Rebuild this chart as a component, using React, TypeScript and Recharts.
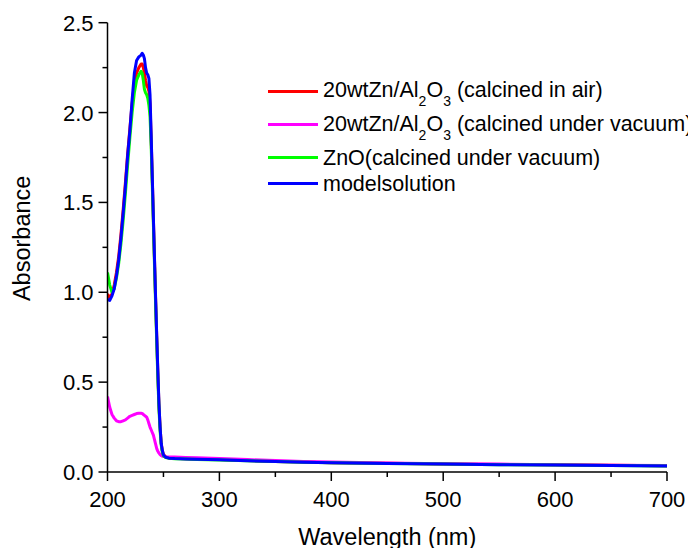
import { LineChart, Line, XAxis, YAxis, Legend } from 'recharts';

const FONT = '"Liberation Sans", Arial, sans-serif';

// wavelength grid (nm), shared by all four spectra
const wavelengths = [
  200, 202, 204, 206, 208, 210, 212, 214, 216, 218, 220, 222, 224, 226, 228, 230, 231, 232, 233, 234,
  235, 236, 237, 238, 239, 240, 241, 242, 243, 244, 245, 246, 247, 248, 249, 250, 252, 255, 260, 270,
  280, 300, 325, 350, 375, 400, 450, 500, 550, 600, 650, 700,
];

const airValues = [
  0.99, 0.97, 0.99, 1.04, 1.11, 1.2, 1.32, 1.46, 1.61, 1.77, 1.91, 2.05, 2.16, 2.22, 2.25, 2.27, 2.27, 2.25, 2.22, 2.18,
  2.15, 2.14, 2.12, 2.05, 1.86, 1.64, 1.41, 1.18, 0.96, 0.75, 0.55, 0.37, 0.25, 0.16, 0.12, 0.097, 0.084, 0.078, 0.076, 0.074,
  0.072, 0.069, 0.064, 0.059, 0.055, 0.052, 0.048, 0.045, 0.042, 0.04, 0.037, 0.035,
];

const vacuumValues = [
  0.42, 0.36, 0.32, 0.3, 0.285, 0.28, 0.28, 0.285, 0.29, 0.3, 0.31, 0.315, 0.32, 0.325, 0.327, 0.327, 0.326, 0.32, 0.315, 0.31,
  0.305, 0.29, 0.27, 0.25, 0.235, 0.22, 0.205, 0.18, 0.155, 0.13, 0.115, 0.105, 0.097, 0.092, 0.088, 0.086, 0.085, 0.084, 0.083, 0.081,
  0.079, 0.075, 0.069, 0.064, 0.059, 0.055, 0.05, 0.046, 0.044, 0.041, 0.038, 0.036,
];

const znoValues = [
  1.11, 1.04, 1.0, 1.02, 1.08, 1.16, 1.27, 1.4, 1.55, 1.71, 1.86, 2.0, 2.11, 2.18, 2.21, 2.23, 2.22, 2.18, 2.13, 2.11,
  2.1, 2.08, 2.04, 1.98, 1.82, 1.6, 1.38, 1.15, 0.93, 0.72, 0.52, 0.35, 0.23, 0.15, 0.11, 0.09, 0.08, 0.076, 0.074, 0.072,
  0.07, 0.067, 0.062, 0.058, 0.054, 0.051, 0.047, 0.044, 0.041, 0.039, 0.036, 0.034,
];

const modelValues = [
  0.96, 0.955, 0.98, 1.02, 1.09, 1.18, 1.3, 1.44, 1.59, 1.76, 1.9, 2.07, 2.22, 2.29, 2.31, 2.32, 2.33, 2.32, 2.3, 2.25,
  2.22, 2.21, 2.19, 2.1, 1.88, 1.65, 1.42, 1.19, 0.97, 0.76, 0.56, 0.38, 0.25, 0.16, 0.12, 0.095, 0.082, 0.077, 0.075, 0.073,
  0.071, 0.068, 0.063, 0.058, 0.054, 0.051, 0.047, 0.044, 0.041, 0.039, 0.036, 0.034,
];

const seriesColors = ['#ff0000', '#ff00ff', '#00ff00', '#0000ff'];
const seriesValues = [airValues, vacuumValues, znoValues, modelValues];

const xTicks = [200, 250, 300, 350, 400, 450, 500, 550, 600, 650, 700];
const yTicks = [0, 0.25, 0.5, 0.75, 1, 1.25, 1.5, 1.75, 2, 2.25, 2.5];

const seriesData = seriesValues.map((vals) => wavelengths.map((wl, i) => ({ wl, a: vals[i] })));

function Sub({ children }: { children: any }) {
  return <span style={{ fontSize: 14, position: 'relative', top: 9 }}>{children}</span>;
}

const legendLabels = [
  <>20wtZn/Al<Sub>2</Sub>O<Sub>3</Sub> (calcined in air)</>,
  <>20wtZn/Al<Sub>2</Sub>O<Sub>3</Sub> (calcined under vacuum)</>,
  <>ZnO(calcined under vacuum)</>,
  <>modelsolution</>,
];
const rowGaps = [7.5, 7, 0, 0];

function renderLegend() {
  return (
    <div style={{ fontFamily: FONT, fontSize: 21.5, color: '#000', whiteSpace: 'nowrap' }}>
      {legendLabels.map((lab, i) => (
        <div key={i} style={{ display: 'flex', alignItems: 'center', height: 26, lineHeight: '26px', marginBottom: rowGaps[i] }}>
          <div style={{ width: 50, height: 3, background: seriesColors[i], marginRight: 5 }} />
          <span>{lab}</span>
        </div>
      ))}
    </div>
  );
}

function XTick({ x, y, payload }: any) {
  const major = payload.value % 100 === 0;
  return (
    <g>
      <line x1={x} x2={x} y1={y} y2={y + (major ? 9 : 5)} stroke="#000" strokeWidth={1.5} />
      {major && (
        <text x={x} y={y + 35} textAnchor="middle" fontSize={22} fontFamily={FONT} fill="#000">
          {payload.value}
        </text>
      )}
    </g>
  );
}

function YTick({ x, y, payload }: any) {
  const v = payload.value;
  const major = Math.abs(v * 2 - Math.round(v * 2)) < 1e-6;
  return (
    <g>
      <line x1={x - (major ? 9 : 5)} x2={x} y1={y} y2={y} stroke="#000" strokeWidth={1.5} />
      {major && (
        <text x={x - 14} y={y + 8} textAnchor="end" fontSize={22} fontFamily={FONT} fill="#000">
          {v.toFixed(1)}
        </text>
      )}
    </g>
  );
}

const XTitle = (props: any) => {
  const vb = props.viewBox;
  return (
    <text x={vb.x + vb.width / 2} y={vb.y + 73} textAnchor="middle" fontSize={23.5} fontFamily={FONT} fill="#000">
      Wavelength (nm)
    </text>
  );
};

const YTitle = (props: any) => {
  const vb = props.viewBox;
  const cy = vb.y + vb.height / 2 - 9;
  return (
    <text x={30} y={cy} transform={`rotate(-90, 30, ${cy})`} textAnchor="middle" fontSize={23.5} fontFamily={FONT} fill="#000">
      Absorbance
    </text>
  );
};

export default function App() {
  return (
    <div style={{ position: 'absolute', left: 0, top: 0, width: 688, height: 548, overflow: 'hidden', background: '#fff' }}>
      <LineChart width={688} height={548} margin={{ top: 22.7, right: 21, bottom: 0, left: 0 }}>
        <XAxis
          type="number"
          dataKey="wl"
          domain={[200, 700]}
          ticks={xTicks}
          interval={0}
          height={76}
          tickSize={0}
          tickMargin={0}
          tickLine={false}
          tick={<XTick />}
          axisLine={{ stroke: '#000', strokeWidth: 1.5 }}
          allowDataOverflow
          label={{ content: XTitle }}
        />
        <YAxis
          type="number"
          domain={[0, 2.5]}
          ticks={yTicks}
          interval={0}
          width={107.5}
          tickSize={0}
          tickMargin={0}
          tickLine={false}
          tick={<YTick />}
          axisLine={{ stroke: '#000', strokeWidth: 1.5 }}
          allowDataOverflow
          label={{ content: YTitle }}
        />
        <Legend
          layout="vertical"
          align="center"
          verticalAlign="middle"
          content={renderLegend}
          wrapperStyle={{ left: 268, top: 78, width: 440, height: 'auto' }}
        />
        {seriesData.map((d, i) => (
          <Line
            key={i}
            data={d}
            dataKey="a"
            type="linear"
            stroke={seriesColors[i]}
            strokeWidth={3}
            strokeLinejoin="round"
            dot={false}
            activeDot={false}
            isAnimationActive={false}
          />
        ))}
      </LineChart>
    </div>
  );
}
